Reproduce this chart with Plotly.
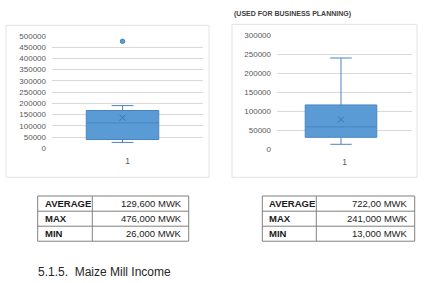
import plotly.graph_objects as go

W, H = 434, 283

# ---------------- data ----------------
categories = ["1"]

left_q1 = [39000]
left_median = [113000]
left_q3 = [168000]
left_lower = [26000]
left_upper = [190000]
left_mean = [136000]
left_outliers = [476000]

right_q1 = [31500]
right_median = [59000]
right_q3 = [117000]
right_lower = [13000]
right_upper = [241000]
right_mean = [78500]

table_labels = ["AVERAGE", "MAX", "MIN"]
left_table_values = ["129,600 MWK", "476,000 MWK", "26,000 MWK"]
right_table_values = ["722,00 MWK", "241,000 MWK", "13,000 MWK"]

right_title = "(USED FOR BUSINESS PLANNING)"
heading = "5.1.5.  Maize Mill Income"

# ---------------- helpers ----------------
def px(x):
    return x / W

def py(y):
    return 1 - y / H

FILL = "#5B9BD5"
EDGE = "#4A84C0"
GRID = "#D9D9D9"
TICK = "#595959"
FONT = "Liberation Sans"

fig = go.Figure()

# left chart
fig.add_trace(go.Box(
    x=[0], q1=left_q1, median=left_median, q3=left_q3,
    lowerfence=left_lower, upperfence=left_upper,
    width=0.48, whiskerwidth=0.3, boxpoints=False,
    fillcolor=FILL, line=dict(color=EDGE, width=1),
    xaxis="x", yaxis="y", showlegend=False, hoverinfo="skip"))
fig.add_trace(go.Scatter(
    x=[0] * len(left_outliers), y=left_outliers, mode="markers",
    marker=dict(size=4.5, color=FILL, line=dict(color="#41719C", width=0.8)),
    xaxis="x", yaxis="y", showlegend=False, hoverinfo="skip"))
fig.add_trace(go.Scatter(
    x=[0], y=left_mean, mode="markers",
    marker=dict(symbol="x-thin", size=6, line=dict(color="#3F73AC", width=1)),
    xaxis="x", yaxis="y", showlegend=False, hoverinfo="skip"))

# right chart
fig.add_trace(go.Box(
    x=[0], q1=right_q1, median=right_median, q3=right_q3,
    lowerfence=right_lower, upperfence=right_upper,
    width=0.53, whiskerwidth=0.3, boxpoints=False,
    fillcolor=FILL, line=dict(color=EDGE, width=1),
    xaxis="x2", yaxis="y2", showlegend=False, hoverinfo="skip"))
fig.add_trace(go.Scatter(
    x=[0], y=right_mean, mode="markers",
    marker=dict(symbol="x-thin", size=6, line=dict(color="#3F73AC", width=1)),
    xaxis="x2", yaxis="y2", showlegend=False, hoverinfo="skip"))

yax_common = dict(showgrid=True, gridcolor=GRID, gridwidth=1, zeroline=False,
                  showline=False, ticks="", tickfont=dict(family=FONT, size=8, color=TICK),
                  ticklabelstandoff=5, dtick=50000, tickformat="d")
xax_common = dict(type="linear", showgrid=False, zeroline=False, showline=False,
                  ticks="", tickfont=dict(family=FONT, size=8.5, color=TICK),
                  ticklabelstandoff=6)

fig.update_layout(
    width=W, height=H, margin=dict(l=0, r=0, t=0, b=0),
    paper_bgcolor="white", plot_bgcolor="white",
    xaxis=dict(domain=[px(52), px(203)], range=[-0.467, 0.533],
               tickvals=[0.033], ticktext=categories, anchor="y", **xax_common),
    yaxis=dict(domain=[py(149), py(33)], range=[0, 500000], anchor="x", **yax_common),
    xaxis2=dict(domain=[px(277), px(412)], range=[-0.474, 0.526],
                tickvals=[0.026], ticktext=categories, anchor="y2", **xax_common),
    yaxis2=dict(domain=[py(150), py(32.7)], range=[0, 300000], anchor="x2", **yax_common),
)

shapes = []
annotations = []

# chart frames
for (x0, y0, x1, y1) in [(6, 22, 209, 179), (232, 21, 417, 179)]:
    shapes.append(dict(type="rect", xref="paper", yref="paper",
                       x0=px(x0), y0=py(y1), x1=px(x1), y1=py(y0),
                       line=dict(color="#E3E3E3", width=1), fillcolor="rgba(0,0,0,0)"))

# right chart title
annotations.append(dict(text="<b>" + right_title + "</b>", xref="paper", yref="paper",
                        x=px(232), y=py(10), xanchor="left", yanchor="middle",
                        showarrow=False, font=dict(family=FONT, size=7, color="#404040")))

# tables
row_edges = [198.3, 214, 229.5, 245]
for (tx0, tdiv, tx1, vals) in [(37.7, 92.3, 188.7, left_table_values),
                               (262.3, 316.3, 414.7, right_table_values)]:
    shapes.append(dict(type="rect", xref="paper", yref="paper",
                       x0=px(tx0), y0=py(row_edges[-1]), x1=px(tx1), y1=py(row_edges[0]),
                       line=dict(color="#808080", width=1)))
    shapes.append(dict(type="line", xref="paper", yref="paper",
                       x0=px(tdiv), x1=px(tdiv), y0=py(row_edges[-1]), y1=py(row_edges[0]),
                       line=dict(color="#808080", width=1)))
    for ry in row_edges[1:-1]:
        shapes.append(dict(type="line", xref="paper", yref="paper",
                           x0=px(tx0), x1=px(tx1), y0=py(ry), y1=py(ry),
                           line=dict(color="#808080", width=1)))
    for i, (lab, val) in enumerate(zip(table_labels, vals)):
        yc = (row_edges[i] + row_edges[i + 1]) / 2
        annotations.append(dict(text="<b>" + lab + "</b>", xref="paper", yref="paper",
                                x=px(tx0 + 5), y=py(yc), xanchor="left", yanchor="middle",
                                showarrow=False, font=dict(family=FONT, size=9.5, color="#1A1A1A")))
        annotations.append(dict(text=val, xref="paper", yref="paper",
                                x=px(tx1 - 5), y=py(yc), xanchor="right", yanchor="middle",
                                showarrow=False, font=dict(family=FONT, size=9.5, color="#1A1A1A")))

# heading
annotations.append(dict(text=heading, xref="paper", yref="paper",
                        x=px(36), y=py(276.5), xanchor="left", yanchor="middle",
                        showarrow=False, font=dict(family=FONT, size=12, color="#262626")))

fig.update_layout(shapes=shapes, annotations=annotations)

fig.write_html("out.html")
